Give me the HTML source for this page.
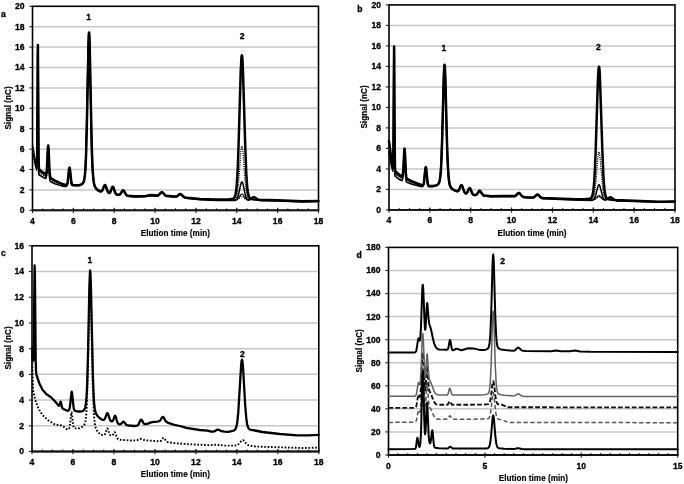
<!DOCTYPE html>
<html><head><meta charset="utf-8"><style>
html,body{margin:0;padding:0;background:#fff;}
body{width:684px;height:484px;overflow:hidden;}
svg{display:block;filter:blur(0.4px);}
.tk{font-family:"Liberation Sans", sans-serif;font-weight:bold;font-size:8.6px;fill:#000;stroke:#000;stroke-width:0.3px;}
.ti{font-family:"Liberation Sans", sans-serif;font-weight:bold;font-size:8.2px;fill:#000;stroke:#000;stroke-width:0.15px;}
.pl{font-family:"Liberation Sans", sans-serif;font-weight:bold;font-size:8.6px;fill:#000;stroke:#000;stroke-width:0.3px;}
</style></head><body>
<svg width="684" height="484" viewBox="0 0 684 484">
<rect width="684" height="484" fill="#fff"/>
<line x1="32.50" y1="189.90" x2="318.50" y2="189.90" stroke="#c6c6c6" stroke-width="1.5"/>
<line x1="32.50" y1="169.50" x2="318.50" y2="169.50" stroke="#c6c6c6" stroke-width="1.5"/>
<line x1="32.50" y1="149.10" x2="318.50" y2="149.10" stroke="#c6c6c6" stroke-width="1.5"/>
<line x1="32.50" y1="128.70" x2="318.50" y2="128.70" stroke="#c6c6c6" stroke-width="1.5"/>
<line x1="32.50" y1="108.30" x2="318.50" y2="108.30" stroke="#c6c6c6" stroke-width="1.5"/>
<line x1="32.50" y1="87.90" x2="318.50" y2="87.90" stroke="#c6c6c6" stroke-width="1.5"/>
<line x1="32.50" y1="67.50" x2="318.50" y2="67.50" stroke="#c6c6c6" stroke-width="1.5"/>
<line x1="32.50" y1="47.10" x2="318.50" y2="47.10" stroke="#c6c6c6" stroke-width="1.5"/>
<line x1="32.50" y1="26.70" x2="318.50" y2="26.70" stroke="#c6c6c6" stroke-width="1.5"/>
<rect x="32.50" y="6.30" width="286.00" height="204.00" fill="none" stroke="#000" stroke-width="1.6"/>
<line x1="29.30" y1="210.30" x2="32.50" y2="210.30" stroke="#222" stroke-width="1.1"/>
<text transform="translate(24.50,213.25) scale(1,1.100)" text-anchor="end" class="tk">0</text>
<line x1="29.30" y1="189.90" x2="32.50" y2="189.90" stroke="#222" stroke-width="1.1"/>
<text transform="translate(24.50,192.85) scale(1,1.100)" text-anchor="end" class="tk">2</text>
<line x1="29.30" y1="169.50" x2="32.50" y2="169.50" stroke="#222" stroke-width="1.1"/>
<text transform="translate(24.50,172.45) scale(1,1.100)" text-anchor="end" class="tk">4</text>
<line x1="29.30" y1="149.10" x2="32.50" y2="149.10" stroke="#222" stroke-width="1.1"/>
<text transform="translate(24.50,152.05) scale(1,1.100)" text-anchor="end" class="tk">6</text>
<line x1="29.30" y1="128.70" x2="32.50" y2="128.70" stroke="#222" stroke-width="1.1"/>
<text transform="translate(24.50,131.65) scale(1,1.100)" text-anchor="end" class="tk">8</text>
<line x1="29.30" y1="108.30" x2="32.50" y2="108.30" stroke="#222" stroke-width="1.1"/>
<text transform="translate(24.50,111.25) scale(1,1.100)" text-anchor="end" class="tk">10</text>
<line x1="29.30" y1="87.90" x2="32.50" y2="87.90" stroke="#222" stroke-width="1.1"/>
<text transform="translate(24.50,90.85) scale(1,1.100)" text-anchor="end" class="tk">12</text>
<line x1="29.30" y1="67.50" x2="32.50" y2="67.50" stroke="#222" stroke-width="1.1"/>
<text transform="translate(24.50,70.45) scale(1,1.100)" text-anchor="end" class="tk">14</text>
<line x1="29.30" y1="47.10" x2="32.50" y2="47.10" stroke="#222" stroke-width="1.1"/>
<text transform="translate(24.50,50.05) scale(1,1.100)" text-anchor="end" class="tk">16</text>
<line x1="29.30" y1="26.70" x2="32.50" y2="26.70" stroke="#222" stroke-width="1.1"/>
<text transform="translate(24.50,29.65) scale(1,1.100)" text-anchor="end" class="tk">18</text>
<line x1="29.30" y1="6.30" x2="32.50" y2="6.30" stroke="#222" stroke-width="1.1"/>
<text transform="translate(24.50,9.25) scale(1,1.100)" text-anchor="end" class="tk">20</text>
<line x1="32.50" y1="208.30" x2="32.50" y2="210.30" stroke="#222" stroke-width="1"/>
<line x1="42.71" y1="208.30" x2="42.71" y2="210.30" stroke="#222" stroke-width="1"/>
<line x1="52.93" y1="208.30" x2="52.93" y2="210.30" stroke="#222" stroke-width="1"/>
<line x1="63.14" y1="208.30" x2="63.14" y2="210.30" stroke="#222" stroke-width="1"/>
<line x1="73.36" y1="208.30" x2="73.36" y2="210.30" stroke="#222" stroke-width="1"/>
<line x1="83.57" y1="208.30" x2="83.57" y2="210.30" stroke="#222" stroke-width="1"/>
<line x1="93.79" y1="208.30" x2="93.79" y2="210.30" stroke="#222" stroke-width="1"/>
<line x1="104.00" y1="208.30" x2="104.00" y2="210.30" stroke="#222" stroke-width="1"/>
<line x1="114.21" y1="208.30" x2="114.21" y2="210.30" stroke="#222" stroke-width="1"/>
<line x1="124.43" y1="208.30" x2="124.43" y2="210.30" stroke="#222" stroke-width="1"/>
<line x1="134.64" y1="208.30" x2="134.64" y2="210.30" stroke="#222" stroke-width="1"/>
<line x1="144.86" y1="208.30" x2="144.86" y2="210.30" stroke="#222" stroke-width="1"/>
<line x1="155.07" y1="208.30" x2="155.07" y2="210.30" stroke="#222" stroke-width="1"/>
<line x1="165.29" y1="208.30" x2="165.29" y2="210.30" stroke="#222" stroke-width="1"/>
<line x1="175.50" y1="208.30" x2="175.50" y2="210.30" stroke="#222" stroke-width="1"/>
<line x1="185.71" y1="208.30" x2="185.71" y2="210.30" stroke="#222" stroke-width="1"/>
<line x1="195.93" y1="208.30" x2="195.93" y2="210.30" stroke="#222" stroke-width="1"/>
<line x1="206.14" y1="208.30" x2="206.14" y2="210.30" stroke="#222" stroke-width="1"/>
<line x1="216.36" y1="208.30" x2="216.36" y2="210.30" stroke="#222" stroke-width="1"/>
<line x1="226.57" y1="208.30" x2="226.57" y2="210.30" stroke="#222" stroke-width="1"/>
<line x1="236.79" y1="208.30" x2="236.79" y2="210.30" stroke="#222" stroke-width="1"/>
<line x1="247.00" y1="208.30" x2="247.00" y2="210.30" stroke="#222" stroke-width="1"/>
<line x1="257.21" y1="208.30" x2="257.21" y2="210.30" stroke="#222" stroke-width="1"/>
<line x1="267.43" y1="208.30" x2="267.43" y2="210.30" stroke="#222" stroke-width="1"/>
<line x1="277.64" y1="208.30" x2="277.64" y2="210.30" stroke="#222" stroke-width="1"/>
<line x1="287.86" y1="208.30" x2="287.86" y2="210.30" stroke="#222" stroke-width="1"/>
<line x1="298.07" y1="208.30" x2="298.07" y2="210.30" stroke="#222" stroke-width="1"/>
<line x1="308.29" y1="208.30" x2="308.29" y2="210.30" stroke="#222" stroke-width="1"/>
<line x1="318.50" y1="208.30" x2="318.50" y2="210.30" stroke="#222" stroke-width="1"/>
<line x1="32.50" y1="207.80" x2="32.50" y2="213.10" stroke="#222" stroke-width="1.1"/>
<text transform="translate(32.50,223.60) scale(1,1.100)" text-anchor="middle" class="tk">4</text>
<line x1="73.36" y1="207.80" x2="73.36" y2="213.10" stroke="#222" stroke-width="1.1"/>
<text transform="translate(73.36,223.60) scale(1,1.100)" text-anchor="middle" class="tk">6</text>
<line x1="114.21" y1="207.80" x2="114.21" y2="213.10" stroke="#222" stroke-width="1.1"/>
<text transform="translate(114.21,223.60) scale(1,1.100)" text-anchor="middle" class="tk">8</text>
<line x1="155.07" y1="207.80" x2="155.07" y2="213.10" stroke="#222" stroke-width="1.1"/>
<text transform="translate(155.07,223.60) scale(1,1.100)" text-anchor="middle" class="tk">10</text>
<line x1="195.93" y1="207.80" x2="195.93" y2="213.10" stroke="#222" stroke-width="1.1"/>
<text transform="translate(195.93,223.60) scale(1,1.100)" text-anchor="middle" class="tk">12</text>
<line x1="236.79" y1="207.80" x2="236.79" y2="213.10" stroke="#222" stroke-width="1.1"/>
<text transform="translate(236.79,223.60) scale(1,1.100)" text-anchor="middle" class="tk">14</text>
<line x1="277.64" y1="207.80" x2="277.64" y2="213.10" stroke="#222" stroke-width="1.1"/>
<text transform="translate(277.64,223.60) scale(1,1.100)" text-anchor="middle" class="tk">16</text>
<line x1="318.50" y1="207.80" x2="318.50" y2="213.10" stroke="#222" stroke-width="1.1"/>
<text transform="translate(318.50,223.60) scale(1,1.100)" text-anchor="middle" class="tk">18</text>
<line x1="31.90" y1="210.30" x2="319.10" y2="210.30" stroke="#111" stroke-width="1.8"/>
<text transform="translate(175.30,236.00) scale(1,1.100)" text-anchor="middle" class="ti">Elution time (min)</text>
<text transform="translate(11.10,108.00) rotate(-90) scale(1,1.100)" text-anchor="middle" class="ti">Signal (nC)</text>
<text transform="translate(1.00,16.50) scale(1,1.100)" class="pl">a</text>
<path d="M32.5,144.5 33.7,151.5 35.0,159.5 36.6,166.5 37.1,167.5 37.2,166.6 37.6,150.4 38.1,59.2 38.2,48.7 38.9,157.5 39.0,167.7 39.2,171.3 39.4,172.3 39.6,172.7 41.7,174.2 45.7,176.6 46.2,176.7 46.6,176.3 46.9,174.8 47.2,171.3 48.1,152.0 48.4,148.5 48.5,147.9 48.8,151.0 49.6,168.4 50.0,175.3 50.4,178.5 50.6,179.4 51.0,180.0 55.0,182.2 61.5,184.7 63.1,185.2 66.1,185.6 66.9,185.5 67.2,185.2 67.5,184.6 68.0,182.4 69.3,170.1 69.5,168.5 69.8,167.9 70.0,168.4 70.3,169.9 71.6,182.0 72.0,183.8 72.5,184.7 72.9,184.9 76.4,185.2 78.3,185.2 79.9,185.0 81.2,184.7 82.3,184.1 83.1,183.4 83.7,182.4 84.1,181.4 84.6,179.8 85.2,175.3 85.8,167.7 86.3,157.0 87.1,127.8 88.6,48.8 89.0,35.9 89.2,33.4 89.4,32.5 89.7,36.1 90.0,46.0 91.8,136.4 92.3,154.4 92.9,168.7 93.5,178.1 93.9,181.5 94.4,183.8 94.9,185.8 95.6,187.2 96.7,188.9 97.6,189.7 98.9,190.5 100.2,191.0 101.0,191.2 101.6,191.0 102.1,190.5 102.6,189.7 104.3,185.5 104.7,185.1 105.0,184.9 105.3,185.1 105.6,185.7 107.5,191.1 108.0,192.0 108.6,192.7 109.0,192.9 109.4,192.9 110.1,192.2 110.8,190.9 112.1,187.4 112.5,186.8 112.8,186.7 113.2,186.9 113.5,187.6 114.9,191.8 115.6,193.4 116.5,194.3 117.9,194.7 119.1,194.7 120.1,194.2 120.8,193.3 122.4,190.7 122.8,190.4 123.2,190.2 123.6,190.4 124.0,190.9 125.6,193.8 126.5,195.0 127.5,195.6 129.1,195.9 134.6,196.2 143.1,196.2 146.1,195.9 149.7,195.3 151.4,195.1 157.1,195.6 157.8,195.4 158.6,195.0 160.9,192.7 161.4,192.3 161.9,192.2 162.3,192.3 162.8,192.7 164.5,194.6 165.3,195.3 166.3,195.8 167.7,196.0 174.2,196.4 176.2,196.4 177.3,196.0 179.4,194.3 180.3,194.0 180.8,194.1 181.3,194.4 183.2,196.4 184.2,197.1 185.5,197.5 187.8,197.8 200.0,199.1 216.4,199.8 232.3,200.0 234.4,199.8 235.4,199.2 236.2,197.9 236.9,195.7 237.5,191.9 238.7,180.8 240.8,152.2 241.4,147.5 241.7,146.3 241.9,146.1 242.2,146.5 242.5,148.0 243.1,153.1 245.0,179.8 246.0,190.1 246.5,193.6 247.1,196.3 247.7,198.2 248.5,199.1 249.1,199.3 249.9,199.2 250.7,198.7 252.7,197.0 253.4,196.7 253.9,196.6 254.5,196.7 255.2,197.0 257.4,198.9 258.4,199.5 259.7,200.0 261.1,200.2 277.6,200.4 302.2,201.3 318.5,201.0" fill="none" stroke="#000" stroke-width="1.30" stroke-linejoin="round" stroke-linecap="butt" stroke-dasharray="1.1 1.1" />
<path d="M32.5,152.2 32.9,153.3 33.7,156.2 35.0,163.0 36.3,168.2 36.5,168.6 36.6,168.5 36.7,166.4 37.1,141.0 37.5,60.2 37.6,49.7 38.3,159.0 38.5,169.4 38.6,173.2 38.8,174.3 39.1,174.7 41.7,176.4 45.1,178.2 45.7,178.3 46.0,177.9 46.3,176.4 46.6,172.9 47.5,153.5 47.8,150.0 47.9,149.4 48.3,152.4 49.0,169.8 49.4,176.7 49.8,179.9 50.1,180.8 50.5,181.4 51.0,181.8 55.0,183.7 59.1,185.1 63.1,186.3 65.6,186.5 66.3,186.4 66.9,185.5 67.4,183.4 68.7,171.0 68.9,169.4 69.2,168.8 69.4,169.3 69.7,170.8 71.0,182.7 71.4,184.5 71.9,185.4 72.4,185.6 73.4,185.5 76.8,185.7 79.6,185.5 80.8,185.1 81.9,184.5 82.7,183.7 83.2,182.7 83.7,181.6 84.1,179.9 84.7,175.0 85.2,168.2 85.7,157.4 86.5,128.2 88.1,49.3 88.5,36.3 88.6,33.8 88.8,33.0 89.1,36.6 89.5,46.5 91.3,136.9 91.7,154.7 92.3,169.0 93.0,178.5 93.4,181.9 93.8,184.2 94.4,186.2 95.0,187.6 96.0,189.1 97.1,190.2 98.4,191.0 99.9,191.7 100.8,191.9 101.5,191.7 102.0,191.3 102.4,190.7 104.2,186.4 104.7,185.7 105.0,185.6 105.3,185.8 105.7,186.5 107.4,191.5 108.0,192.7 108.6,193.3 109.0,193.5 109.4,193.5 110.1,192.9 110.8,191.6 112.1,188.0 112.5,187.4 112.8,187.3 113.2,187.6 113.5,188.2 114.9,192.4 115.6,194.0 116.5,194.9 117.9,195.3 119.1,195.3 120.1,194.8 120.8,193.9 122.4,191.4 122.8,191.0 123.2,190.9 123.6,191.1 124.0,191.5 125.6,194.4 126.5,195.6 127.5,196.2 129.0,196.5 134.6,196.9 143.1,196.8 146.1,196.6 149.7,195.9 151.4,195.8 157.1,196.2 157.8,196.0 158.6,195.6 160.9,193.3 161.4,192.9 161.9,192.8 162.3,193.0 162.8,193.3 164.5,195.3 165.3,196.0 166.3,196.4 167.6,196.6 174.2,197.0 176.2,197.0 177.3,196.6 179.4,194.9 180.3,194.6 180.8,194.7 181.3,195.0 183.2,197.0 184.2,197.7 185.4,198.1 187.5,198.4 200.0,199.7 216.4,200.4 234.1,200.6 235.2,200.4 236.1,200.0 236.8,199.3 237.4,198.1 238.6,194.3 240.8,184.0 241.4,182.4 241.7,181.9 241.9,181.9 242.2,182.0 242.5,182.6 243.1,184.3 245.0,193.7 245.9,197.0 246.9,199.1 247.5,199.8 248.1,200.2 248.9,200.2 249.8,199.9 252.7,197.6 253.4,197.3 253.9,197.2 254.5,197.3 255.2,197.6 257.4,199.5 258.4,200.2 259.7,200.6 261.1,200.8 277.6,201.0 302.2,201.9 318.5,201.6" fill="none" stroke="#000" stroke-width="1.50" stroke-linejoin="round" stroke-linecap="round" />
<path d="M32.5,145.0 33.7,150.9 35.0,158.5 36.6,165.2 36.7,165.5 36.8,165.4 37.0,164.0 37.3,143.5 37.9,46.6 38.1,57.9 38.5,151.7 38.8,167.5 39.0,170.2 39.1,170.9 39.4,171.3 41.7,173.0 45.5,175.4 46.0,175.5 46.3,175.0 46.6,173.3 47.0,169.5 47.9,150.1 48.2,146.8 48.4,147.2 48.6,150.6 49.7,173.7 50.2,177.7 50.4,178.4 50.8,179.0 55.0,181.5 59.1,183.3 63.1,184.8 65.8,185.3 66.7,185.2 67.0,184.8 67.2,184.3 67.6,182.5 69.0,169.6 69.3,168.2 69.5,167.8 69.8,168.5 70.0,170.2 71.2,181.7 71.6,183.6 72.1,184.6 72.7,184.9 75.9,185.1 77.9,185.2 79.5,185.0 80.8,184.7 81.9,184.1 82.8,183.4 83.4,182.4 83.8,181.4 84.2,180.0 84.9,175.6 85.5,168.3 85.9,158.0 86.8,125.8 88.4,47.1 88.7,36.7 89.0,32.5 89.2,33.0 89.4,35.2 89.7,44.4 91.5,134.6 92.1,155.5 92.6,169.3 93.3,178.4 93.7,181.7 94.1,183.9 94.7,185.8 95.3,187.2 96.3,188.6 97.3,189.6 98.7,190.4 100.1,191.1 101.0,191.2 101.6,191.0 102.1,190.6 102.6,189.8 104.3,185.6 104.7,185.1 105.0,185.0 105.4,185.3 105.8,186.1 107.7,191.4 108.2,192.4 108.8,192.9 109.2,192.9 109.6,192.8 110.2,192.1 110.8,190.9 112.1,187.4 112.4,186.8 112.7,186.7 113.1,186.8 113.5,187.6 114.8,191.5 115.4,192.9 115.9,193.8 116.6,194.3 117.3,194.6 118.3,194.7 119.1,194.7 119.8,194.4 120.8,193.4 122.5,190.7 122.9,190.3 123.2,190.2 123.6,190.4 124.0,190.9 125.6,193.8 126.5,195.0 127.6,195.6 129.5,195.9 134.6,196.2 143.3,196.2 146.1,196.0 149.7,195.3 151.4,195.1 157.1,195.6 157.8,195.4 158.6,195.0 160.9,192.7 161.4,192.3 161.9,192.2 162.3,192.3 162.8,192.7 164.5,194.6 165.3,195.3 166.3,195.8 167.6,196.0 174.2,196.4 176.2,196.4 177.3,196.0 179.4,194.3 180.3,194.0 180.8,194.1 181.3,194.4 183.2,196.4 184.2,197.1 185.4,197.5 187.5,197.8 200.0,199.1 216.4,199.8 234.3,200.0 236.2,199.8 237.5,199.2 238.7,197.9 240.8,194.7 241.4,194.2 241.9,194.0 242.5,194.2 243.1,194.8 245.0,197.7 245.9,198.8 246.8,199.5 247.7,199.8 248.6,199.7 249.6,199.4 250.6,198.8 252.7,197.0 253.4,196.7 253.9,196.6 254.5,196.7 255.2,197.0 257.4,198.9 258.4,199.5 259.7,200.0 261.1,200.2 277.6,200.4 302.2,201.3 318.5,201.0" fill="none" stroke="#111" stroke-width="1.20" stroke-linejoin="round" stroke-linecap="round" />
<path d="M32.5,157.2 32.9,157.2 33.3,157.8 33.7,158.8 35.0,164.5 36.6,170.2 36.7,170.4 36.8,170.3 37.0,168.8 37.3,148.3 37.9,51.2 38.1,62.5 38.5,156.2 38.8,171.9 39.0,174.6 39.1,175.3 39.4,175.6 41.7,177.0 45.5,178.9 46.0,178.9 46.3,178.4 46.6,176.6 47.0,172.8 47.9,153.3 48.2,149.9 48.4,150.4 48.6,153.7 49.7,176.7 50.2,180.5 50.4,181.3 50.8,181.9 55.0,183.8 59.1,185.1 63.1,186.1 65.8,186.2 66.7,186.0 67.2,185.1 67.6,183.2 69.0,170.1 69.3,168.7 69.5,168.3 69.8,169.0 70.0,170.6 71.2,181.9 71.6,183.8 72.1,184.8 72.6,185.0 73.4,184.9 76.8,185.2 78.5,185.1 79.8,185.0 81.1,184.5 82.2,183.9 83.0,183.1 83.6,182.1 84.0,180.9 84.4,179.2 85.0,174.0 85.5,166.9 86.0,155.8 86.8,125.8 88.4,47.1 88.7,36.7 89.0,32.5 89.2,33.0 89.4,35.2 89.7,44.4 91.5,134.6 92.1,155.5 92.6,169.3 93.3,178.4 93.7,181.7 94.1,183.9 94.7,185.8 95.3,187.2 96.3,188.6 97.3,189.6 98.7,190.4 100.1,191.1 101.0,191.2 101.6,191.0 102.1,190.6 102.6,189.8 104.3,185.6 104.7,185.1 105.0,185.0 105.4,185.3 105.8,186.1 107.7,191.4 108.2,192.4 108.8,192.9 109.2,192.9 109.6,192.8 110.2,192.1 110.8,190.9 112.1,187.4 112.4,186.8 112.7,186.7 113.1,186.8 113.5,187.6 114.8,191.5 115.4,192.9 115.9,193.8 116.6,194.3 117.3,194.6 118.3,194.7 119.1,194.7 119.8,194.4 120.8,193.4 122.5,190.7 122.9,190.3 123.2,190.2 123.6,190.4 124.0,190.9 125.6,193.8 126.5,195.0 127.6,195.6 129.5,195.9 134.6,196.2 143.3,196.2 146.1,196.0 149.7,195.3 151.4,195.1 157.1,195.6 157.8,195.4 158.6,195.0 160.9,192.7 161.4,192.3 161.9,192.2 162.3,192.3 162.8,192.7 165.0,195.2 165.8,195.6 166.7,195.9 173.8,196.4 176.1,196.4 177.3,196.0 179.4,194.3 179.9,194.0 180.4,194.0 181.3,194.4 183.7,196.8 185.1,197.4 187.8,197.8 200.0,199.1 216.4,199.8 235.5,200.0 236.8,199.8 237.8,199.4 238.7,198.8 240.8,196.9 241.4,196.6 241.9,196.5 242.5,196.7 243.1,197.0 245.0,198.8 245.9,199.4 246.9,199.8 247.9,199.9 248.8,199.7 249.7,199.4 252.7,197.0 253.4,196.7 253.9,196.6 254.5,196.7 255.2,197.0 257.4,198.9 258.4,199.5 259.7,200.0 261.1,200.2 277.6,200.4 302.2,201.3 318.5,201.0" fill="none" stroke="#000" stroke-width="1.20" stroke-linejoin="round" stroke-linecap="butt" stroke-dasharray="1.1 1.1" />
<path d="M36.0,160.6 36.6,163.4 36.8,163.5 36.9,163.3 37.0,161.2 37.2,153.8 37.8,55.3 37.9,44.9 38.6,154.2 38.8,164.4 38.9,168.0 39.1,169.1 39.4,169.6 41.7,171.5 45.4,173.9 45.9,174.1 46.3,173.7 46.6,172.3 46.9,168.8 47.8,149.5 48.1,146.1 48.2,145.5 48.6,148.6 49.3,166.1 49.7,173.0 50.2,176.7 50.4,177.4 50.8,178.0 54.9,180.5 59.1,182.6 63.2,184.3 65.9,184.9 66.6,184.9 66.9,184.6 67.2,184.1 67.7,182.0 69.0,169.7 69.2,168.2 69.5,167.6 69.7,168.1 70.0,169.7 71.3,181.8 71.7,183.6 72.2,184.6 72.7,184.9 76.2,185.2 78.2,185.2 79.8,185.0 81.2,184.5 82.2,183.9 83.0,183.0 83.6,182.0 84.0,180.8 84.4,178.9 85.0,174.4 85.5,167.6 86.0,156.9 86.8,127.7 88.4,48.7 88.8,35.8 88.9,33.3 89.1,32.4 89.4,36.0 89.7,45.9 91.5,136.3 92.0,154.2 92.6,168.5 93.3,178.0 93.7,181.4 94.1,183.7 94.6,185.7 95.3,187.1 96.4,188.7 97.3,189.6 98.6,190.4 100.0,191.0 100.9,191.2 101.6,191.0 102.1,190.6 102.5,190.0 104.2,185.8 104.6,185.1 104.9,185.0 105.3,185.2 105.8,186.0 107.7,191.5 108.2,192.3 108.8,192.8 109.2,192.9 109.5,192.8 110.2,192.2 110.7,191.0 112.0,187.5 112.5,186.8 112.8,186.7 113.1,186.9 113.5,187.7 115.3,192.8 115.9,193.8 116.5,194.3 117.3,194.6 118.3,194.7 119.1,194.7 119.7,194.4 120.7,193.5 122.4,190.7 122.8,190.3 123.2,190.2 123.7,190.5 124.1,191.0 125.5,193.7 126.3,194.9 127.3,195.5 128.7,195.8 134.6,196.2 140.9,196.2 145.6,196.0 149.6,195.3 151.1,195.1 157.2,195.5 157.9,195.4 158.6,195.0 160.9,192.6 161.4,192.3 161.8,192.2 162.2,192.3 162.7,192.6 165.1,195.2 165.8,195.6 166.6,195.8 173.7,196.4 176.1,196.3 177.3,196.0 179.5,194.2 180.4,193.9 180.9,194.1 181.3,194.4 183.6,196.7 184.4,197.1 185.2,197.4 187.7,197.8 200.0,199.0 216.3,199.6 224.7,199.5 228.5,199.4 231.3,199.1 232.9,198.7 233.9,198.1 234.5,197.3 235.0,196.2 235.5,194.5 235.9,192.3 236.7,186.0 237.3,176.7 237.9,164.9 238.5,147.1 240.7,72.0 241.3,59.7 241.6,56.1 241.9,55.3 242.1,56.1 242.5,59.7 243.0,72.0 245.2,144.6 246.3,173.7 246.9,183.0 247.5,190.0 248.3,194.6 248.7,196.1 249.2,197.2 249.6,197.9 250.1,198.4 251.5,199.0 254.3,199.5 258.7,199.8 277.7,200.3 302.1,201.3 318.5,201.0" fill="none" stroke="#000" stroke-width="2.50" stroke-linejoin="round" stroke-linecap="round" />
<text transform="translate(88.70,19.60) scale(1,1.100)" text-anchor="middle" class="pl">1</text>
<text transform="translate(242.20,38.60) scale(1,1.100)" text-anchor="middle" class="pl">2</text>
<line x1="389.00" y1="189.40" x2="675.00" y2="189.40" stroke="#c6c6c6" stroke-width="1.5"/>
<line x1="389.00" y1="168.90" x2="675.00" y2="168.90" stroke="#c6c6c6" stroke-width="1.5"/>
<line x1="389.00" y1="148.40" x2="675.00" y2="148.40" stroke="#c6c6c6" stroke-width="1.5"/>
<line x1="389.00" y1="127.90" x2="675.00" y2="127.90" stroke="#c6c6c6" stroke-width="1.5"/>
<line x1="389.00" y1="107.40" x2="675.00" y2="107.40" stroke="#c6c6c6" stroke-width="1.5"/>
<line x1="389.00" y1="86.90" x2="675.00" y2="86.90" stroke="#c6c6c6" stroke-width="1.5"/>
<line x1="389.00" y1="66.40" x2="675.00" y2="66.40" stroke="#c6c6c6" stroke-width="1.5"/>
<line x1="389.00" y1="45.90" x2="675.00" y2="45.90" stroke="#c6c6c6" stroke-width="1.5"/>
<line x1="389.00" y1="25.40" x2="675.00" y2="25.40" stroke="#c6c6c6" stroke-width="1.5"/>
<rect x="389.00" y="4.90" width="286.00" height="205.00" fill="none" stroke="#000" stroke-width="1.6"/>
<line x1="385.80" y1="209.90" x2="389.00" y2="209.90" stroke="#222" stroke-width="1.1"/>
<text transform="translate(381.00,212.85) scale(1,1.100)" text-anchor="end" class="tk">0</text>
<line x1="385.80" y1="189.40" x2="389.00" y2="189.40" stroke="#222" stroke-width="1.1"/>
<text transform="translate(381.00,192.35) scale(1,1.100)" text-anchor="end" class="tk">2</text>
<line x1="385.80" y1="168.90" x2="389.00" y2="168.90" stroke="#222" stroke-width="1.1"/>
<text transform="translate(381.00,171.85) scale(1,1.100)" text-anchor="end" class="tk">4</text>
<line x1="385.80" y1="148.40" x2="389.00" y2="148.40" stroke="#222" stroke-width="1.1"/>
<text transform="translate(381.00,151.35) scale(1,1.100)" text-anchor="end" class="tk">6</text>
<line x1="385.80" y1="127.90" x2="389.00" y2="127.90" stroke="#222" stroke-width="1.1"/>
<text transform="translate(381.00,130.85) scale(1,1.100)" text-anchor="end" class="tk">8</text>
<line x1="385.80" y1="107.40" x2="389.00" y2="107.40" stroke="#222" stroke-width="1.1"/>
<text transform="translate(381.00,110.35) scale(1,1.100)" text-anchor="end" class="tk">10</text>
<line x1="385.80" y1="86.90" x2="389.00" y2="86.90" stroke="#222" stroke-width="1.1"/>
<text transform="translate(381.00,89.85) scale(1,1.100)" text-anchor="end" class="tk">12</text>
<line x1="385.80" y1="66.40" x2="389.00" y2="66.40" stroke="#222" stroke-width="1.1"/>
<text transform="translate(381.00,69.35) scale(1,1.100)" text-anchor="end" class="tk">14</text>
<line x1="385.80" y1="45.90" x2="389.00" y2="45.90" stroke="#222" stroke-width="1.1"/>
<text transform="translate(381.00,48.85) scale(1,1.100)" text-anchor="end" class="tk">16</text>
<line x1="385.80" y1="25.40" x2="389.00" y2="25.40" stroke="#222" stroke-width="1.1"/>
<text transform="translate(381.00,28.35) scale(1,1.100)" text-anchor="end" class="tk">18</text>
<line x1="385.80" y1="4.90" x2="389.00" y2="4.90" stroke="#222" stroke-width="1.1"/>
<text transform="translate(381.00,7.85) scale(1,1.100)" text-anchor="end" class="tk">20</text>
<line x1="389.00" y1="207.90" x2="389.00" y2="209.90" stroke="#222" stroke-width="1"/>
<line x1="399.21" y1="207.90" x2="399.21" y2="209.90" stroke="#222" stroke-width="1"/>
<line x1="409.43" y1="207.90" x2="409.43" y2="209.90" stroke="#222" stroke-width="1"/>
<line x1="419.64" y1="207.90" x2="419.64" y2="209.90" stroke="#222" stroke-width="1"/>
<line x1="429.86" y1="207.90" x2="429.86" y2="209.90" stroke="#222" stroke-width="1"/>
<line x1="440.07" y1="207.90" x2="440.07" y2="209.90" stroke="#222" stroke-width="1"/>
<line x1="450.29" y1="207.90" x2="450.29" y2="209.90" stroke="#222" stroke-width="1"/>
<line x1="460.50" y1="207.90" x2="460.50" y2="209.90" stroke="#222" stroke-width="1"/>
<line x1="470.71" y1="207.90" x2="470.71" y2="209.90" stroke="#222" stroke-width="1"/>
<line x1="480.93" y1="207.90" x2="480.93" y2="209.90" stroke="#222" stroke-width="1"/>
<line x1="491.14" y1="207.90" x2="491.14" y2="209.90" stroke="#222" stroke-width="1"/>
<line x1="501.36" y1="207.90" x2="501.36" y2="209.90" stroke="#222" stroke-width="1"/>
<line x1="511.57" y1="207.90" x2="511.57" y2="209.90" stroke="#222" stroke-width="1"/>
<line x1="521.79" y1="207.90" x2="521.79" y2="209.90" stroke="#222" stroke-width="1"/>
<line x1="532.00" y1="207.90" x2="532.00" y2="209.90" stroke="#222" stroke-width="1"/>
<line x1="542.21" y1="207.90" x2="542.21" y2="209.90" stroke="#222" stroke-width="1"/>
<line x1="552.43" y1="207.90" x2="552.43" y2="209.90" stroke="#222" stroke-width="1"/>
<line x1="562.64" y1="207.90" x2="562.64" y2="209.90" stroke="#222" stroke-width="1"/>
<line x1="572.86" y1="207.90" x2="572.86" y2="209.90" stroke="#222" stroke-width="1"/>
<line x1="583.07" y1="207.90" x2="583.07" y2="209.90" stroke="#222" stroke-width="1"/>
<line x1="593.29" y1="207.90" x2="593.29" y2="209.90" stroke="#222" stroke-width="1"/>
<line x1="603.50" y1="207.90" x2="603.50" y2="209.90" stroke="#222" stroke-width="1"/>
<line x1="613.71" y1="207.90" x2="613.71" y2="209.90" stroke="#222" stroke-width="1"/>
<line x1="623.93" y1="207.90" x2="623.93" y2="209.90" stroke="#222" stroke-width="1"/>
<line x1="634.14" y1="207.90" x2="634.14" y2="209.90" stroke="#222" stroke-width="1"/>
<line x1="644.36" y1="207.90" x2="644.36" y2="209.90" stroke="#222" stroke-width="1"/>
<line x1="654.57" y1="207.90" x2="654.57" y2="209.90" stroke="#222" stroke-width="1"/>
<line x1="664.79" y1="207.90" x2="664.79" y2="209.90" stroke="#222" stroke-width="1"/>
<line x1="675.00" y1="207.90" x2="675.00" y2="209.90" stroke="#222" stroke-width="1"/>
<line x1="389.00" y1="207.40" x2="389.00" y2="212.70" stroke="#222" stroke-width="1.1"/>
<text transform="translate(389.00,223.20) scale(1,1.100)" text-anchor="middle" class="tk">4</text>
<line x1="429.86" y1="207.40" x2="429.86" y2="212.70" stroke="#222" stroke-width="1.1"/>
<text transform="translate(429.86,223.20) scale(1,1.100)" text-anchor="middle" class="tk">6</text>
<line x1="470.71" y1="207.40" x2="470.71" y2="212.70" stroke="#222" stroke-width="1.1"/>
<text transform="translate(470.71,223.20) scale(1,1.100)" text-anchor="middle" class="tk">8</text>
<line x1="511.57" y1="207.40" x2="511.57" y2="212.70" stroke="#222" stroke-width="1.1"/>
<text transform="translate(511.57,223.20) scale(1,1.100)" text-anchor="middle" class="tk">10</text>
<line x1="552.43" y1="207.40" x2="552.43" y2="212.70" stroke="#222" stroke-width="1.1"/>
<text transform="translate(552.43,223.20) scale(1,1.100)" text-anchor="middle" class="tk">12</text>
<line x1="593.29" y1="207.40" x2="593.29" y2="212.70" stroke="#222" stroke-width="1.1"/>
<text transform="translate(593.29,223.20) scale(1,1.100)" text-anchor="middle" class="tk">14</text>
<line x1="634.14" y1="207.40" x2="634.14" y2="212.70" stroke="#222" stroke-width="1.1"/>
<text transform="translate(634.14,223.20) scale(1,1.100)" text-anchor="middle" class="tk">16</text>
<line x1="675.00" y1="207.40" x2="675.00" y2="212.70" stroke="#222" stroke-width="1.1"/>
<text transform="translate(675.00,223.20) scale(1,1.100)" text-anchor="middle" class="tk">18</text>
<line x1="388.40" y1="209.90" x2="675.60" y2="209.90" stroke="#111" stroke-width="1.8"/>
<text transform="translate(532.00,236.20) scale(1,1.100)" text-anchor="middle" class="ti">Elution time (min)</text>
<text transform="translate(367.00,107.00) rotate(-90) scale(1,1.100)" text-anchor="middle" class="ti">Signal (nC)</text>
<text transform="translate(357.30,11.50) scale(1,1.100)" class="pl">b</text>
<path d="M389.0,143.2 391.5,162.3 393.1,168.9 393.2,169.1 393.3,168.9 393.5,167.1 393.8,144.0 394.4,48.9 395.0,146.5 395.3,170.8 395.5,173.2 395.7,174.0 397.2,175.4 400.3,177.7 402.0,178.4 402.5,178.5 402.9,177.9 403.1,176.8 403.6,171.2 404.4,153.7 404.8,150.5 404.9,150.9 405.2,154.0 406.2,175.8 406.7,179.1 406.9,180.0 407.3,180.6 411.5,182.4 421.7,185.8 422.7,185.8 423.2,185.7 423.7,184.8 424.2,182.8 425.6,169.3 425.9,167.8 426.1,167.4 426.3,168.2 426.6,170.0 427.8,182.4 428.2,184.5 428.8,185.8 429.1,186.0 429.6,186.1 432.0,186.1 434.4,185.8 436.4,185.4 437.5,184.9 438.3,184.4 438.9,183.6 439.4,182.6 440.2,179.9 440.7,175.6 441.2,169.5 441.7,160.3 442.5,136.8 444.1,77.5 444.5,67.7 444.8,64.8 445.0,65.1 445.1,66.7 445.5,75.6 447.4,146.6 448.0,162.4 448.7,174.2 449.3,180.9 449.7,183.4 450.2,185.3 450.8,186.7 451.5,187.8 452.5,188.8 453.8,189.7 455.3,190.4 456.7,191.0 457.5,191.1 458.1,190.9 458.6,190.5 459.1,189.7 460.8,185.6 461.2,185.2 461.5,185.0 461.9,185.3 462.3,186.1 464.2,191.5 464.7,192.3 465.2,192.9 465.6,193.2 466.1,193.2 466.5,193.1 467.0,192.7 467.6,191.7 469.0,188.6 469.4,188.1 469.7,188.0 470.1,188.3 470.4,188.8 471.8,192.4 472.5,193.7 473.4,194.5 474.6,194.9 475.7,194.8 476.6,194.3 477.3,193.5 478.9,191.2 479.3,190.8 479.7,190.7 480.1,190.9 480.5,191.3 482.5,194.4 483.5,195.3 485.2,195.7 491.1,196.2 501.4,196.0 514.3,196.1 515.1,195.9 515.7,195.5 517.9,193.4 518.4,193.0 518.8,192.9 519.3,193.1 519.8,193.4 521.6,195.6 522.6,196.4 523.7,196.9 525.6,197.2 531.3,197.5 533.2,197.4 534.4,196.9 536.6,194.8 537.1,194.6 537.5,194.5 538.0,194.6 538.5,194.9 540.2,196.8 541.0,197.5 541.9,197.9 543.0,198.1 572.9,199.3 589.4,199.7 591.6,199.6 592.6,199.1 593.4,197.8 594.0,195.8 594.7,192.4 595.7,183.2 597.9,157.7 598.4,153.4 598.8,152.1 599.0,151.8 599.3,152.1 599.6,153.4 600.1,157.7 602.2,182.5 603.1,190.9 603.6,194.0 604.2,196.6 604.7,198.1 605.5,199.0 606.0,199.2 606.7,199.0 609.3,197.1 609.9,196.9 610.4,196.8 611.0,196.9 611.7,197.2 613.9,199.1 614.9,199.8 616.2,200.3 617.6,200.5 634.1,200.8 658.7,201.7 675.0,201.4" fill="none" stroke="#000" stroke-width="1.30" stroke-linejoin="round" stroke-linecap="butt" stroke-dasharray="1.1 1.1" />
<path d="M389.0,152.0 390.2,158.2 391.5,166.0 392.7,170.0 392.8,169.5 392.9,168.4 393.2,145.5 393.8,50.3 394.4,147.8 394.7,172.3 394.9,174.8 395.1,175.9 397.2,177.7 400.2,179.8 401.4,180.2 401.9,180.2 402.3,179.6 402.6,178.5 403.1,172.9 403.9,155.4 404.2,152.1 404.4,152.5 404.6,155.7 405.7,177.4 406.1,180.7 406.3,181.5 406.7,182.1 407.3,182.4 411.5,184.0 421.7,186.8 422.6,186.6 423.2,185.7 423.6,183.6 425.0,170.1 425.3,168.6 425.5,168.2 425.8,169.0 426.0,170.7 427.2,183.1 427.7,185.2 428.2,186.4 429.0,186.7 431.2,186.7 433.5,186.5 435.3,186.1 436.7,185.5 437.6,185.0 438.3,184.2 438.8,183.2 439.6,180.4 440.2,176.1 440.6,170.0 441.1,160.8 442.0,137.2 443.5,77.9 443.9,68.2 444.2,65.2 444.4,65.6 444.6,67.2 445.0,76.0 446.9,147.1 447.4,162.8 448.1,174.6 448.7,181.4 449.1,183.9 449.6,185.8 450.2,187.2 450.9,188.3 451.9,189.3 453.2,190.2 454.8,191.0 456.4,191.6 457.3,191.8 458.0,191.6 458.5,191.2 458.9,190.7 460.7,186.4 461.2,185.8 461.5,185.7 461.9,186.0 462.3,186.8 464.2,192.1 464.7,193.0 465.2,193.6 465.6,193.8 466.1,193.9 466.5,193.7 467.0,193.4 467.6,192.3 469.0,189.2 469.4,188.7 469.7,188.7 470.1,188.9 470.4,189.5 471.8,193.0 472.5,194.4 473.4,195.2 474.6,195.5 475.7,195.4 476.6,195.0 477.3,194.2 478.9,191.8 479.3,191.4 479.7,191.3 480.1,191.5 480.5,191.9 482.5,195.0 483.5,195.9 485.2,196.3 491.1,196.8 501.4,196.6 514.3,196.7 515.1,196.5 515.7,196.2 517.9,194.0 518.4,193.6 518.8,193.6 519.3,193.7 519.8,194.0 521.6,196.2 522.6,197.1 523.7,197.5 525.5,197.8 531.2,198.1 533.2,198.0 534.4,197.5 536.6,195.5 537.1,195.2 537.5,195.1 538.0,195.2 538.5,195.6 540.1,197.3 540.9,198.0 541.8,198.5 542.9,198.7 572.9,199.9 591.2,200.4 592.4,200.2 593.2,199.9 593.9,199.2 594.6,198.2 595.7,195.0 597.9,186.6 598.4,185.2 598.8,184.8 599.0,184.7 599.3,184.8 599.6,185.3 600.1,186.7 602.1,194.6 603.0,197.5 604.0,199.3 604.5,199.8 605.1,200.1 605.7,200.1 606.4,199.8 609.2,197.8 609.9,197.5 610.4,197.4 611.0,197.5 611.7,197.9 613.9,199.7 614.9,200.4 616.2,200.9 617.6,201.1 634.1,201.4 658.7,202.3 675.0,202.0" fill="none" stroke="#000" stroke-width="1.50" stroke-linejoin="round" stroke-linecap="round" />
<path d="M389.0,145.3 391.5,161.9 392.9,167.4 393.0,167.5 393.1,167.3 393.2,166.4 393.5,147.9 394.1,48.3 394.2,56.1 394.7,150.6 395.0,170.5 395.2,172.3 395.5,172.9 397.2,174.6 400.3,177.0 401.7,177.6 402.2,177.6 402.6,177.2 402.9,175.7 403.4,169.7 404.2,152.3 404.4,150.3 404.5,149.7 404.9,152.6 405.9,174.6 406.3,178.2 406.6,179.2 407.0,179.9 407.6,180.3 411.5,182.0 421.2,185.4 422.2,185.6 422.9,185.5 423.2,185.1 423.5,184.5 424.0,182.3 425.3,169.4 425.5,167.8 425.8,167.3 426.0,167.9 426.3,169.5 427.6,182.6 428.0,184.6 428.5,185.7 429.1,186.1 430.5,186.1 433.4,185.9 435.5,185.5 436.9,185.0 437.9,184.4 438.6,183.6 439.2,182.5 439.8,180.0 440.4,175.9 440.9,170.1 441.4,161.2 442.2,138.1 443.8,76.2 444.2,67.0 444.4,65.2 444.6,64.7 444.9,67.2 445.3,76.7 447.1,145.2 447.7,161.3 448.3,173.5 449.1,181.1 449.5,183.5 450.0,185.4 450.5,186.7 451.3,187.8 452.2,188.8 453.6,189.7 455.1,190.4 456.6,191.0 457.5,191.1 458.1,190.9 458.6,190.5 459.1,189.7 460.8,185.6 461.2,185.2 461.5,185.0 461.9,185.4 462.3,186.1 463.7,190.3 464.3,191.7 464.9,192.7 465.6,193.2 466.4,193.2 467.0,192.7 467.7,191.6 469.0,188.6 469.3,188.2 469.7,188.0 470.0,188.2 470.4,188.8 472.3,193.4 472.9,194.2 473.7,194.7 475.0,194.9 475.8,194.8 476.4,194.5 477.3,193.6 478.9,191.2 479.3,190.8 479.7,190.7 480.1,190.9 480.5,191.3 482.5,194.4 483.5,195.3 485.2,195.7 491.1,196.2 501.4,196.0 514.3,196.1 515.1,195.9 515.7,195.5 517.9,193.4 518.4,193.0 518.8,192.9 519.3,193.0 519.7,193.4 521.8,195.8 522.9,196.6 524.4,197.0 527.9,197.4 531.9,197.5 533.5,197.4 534.7,196.7 536.7,194.8 537.5,194.5 538.0,194.6 538.5,194.9 540.1,196.7 540.9,197.4 541.8,197.9 542.9,198.1 572.9,199.3 592.1,199.8 593.6,199.6 594.8,199.2 595.8,198.3 597.9,196.2 598.4,195.8 599.0,195.7 599.6,195.9 600.1,196.3 602.8,199.1 603.7,199.6 604.5,199.8 605.3,199.7 606.2,199.4 607.1,198.8 609.2,197.2 609.9,196.9 610.4,196.8 611.0,196.9 611.7,197.2 613.9,199.1 614.9,199.8 616.2,200.3 617.6,200.5 634.1,200.8 658.7,201.7 675.0,201.4" fill="none" stroke="#111" stroke-width="1.30" stroke-linejoin="round" stroke-linecap="round" />
<path d="M389.0,158.1 389.4,158.5 390.2,161.2 391.5,167.7 392.9,172.1 393.0,172.2 393.1,171.9 393.2,171.0 393.5,152.4 394.1,52.6 394.2,60.3 394.7,154.7 395.0,174.6 395.2,176.3 395.5,176.9 397.2,178.3 400.2,180.3 401.7,180.8 402.2,180.8 402.6,180.3 402.8,179.3 403.4,172.7 404.2,155.2 404.4,153.2 404.5,152.5 404.9,155.4 405.9,177.3 406.3,180.9 406.6,181.8 407.0,182.5 407.6,182.8 411.5,184.1 421.2,186.4 422.2,186.5 422.9,186.2 423.5,185.3 424.0,183.0 425.3,170.0 425.5,168.3 425.8,167.7 426.0,168.3 426.3,169.9 427.6,182.8 428.0,184.8 428.5,185.8 428.8,186.1 429.2,186.1 431.6,186.1 433.9,185.9 435.7,185.5 437.0,185.0 437.9,184.4 438.6,183.6 439.2,182.5 439.8,180.0 440.4,175.9 440.9,170.1 441.4,161.2 442.2,138.1 443.8,76.2 444.2,67.0 444.4,65.2 444.6,64.7 444.9,67.2 445.3,76.7 447.1,145.2 447.7,161.3 448.3,173.5 449.1,181.1 449.5,183.5 450.0,185.4 450.5,186.7 451.3,187.8 452.2,188.8 453.6,189.7 455.1,190.4 456.6,191.0 457.5,191.1 458.1,190.9 458.6,190.5 459.1,189.7 460.8,185.6 461.2,185.2 461.5,185.0 461.9,185.4 462.3,186.1 463.7,190.3 464.3,191.7 464.9,192.7 465.6,193.2 466.4,193.2 467.0,192.7 467.7,191.6 469.0,188.6 469.3,188.2 469.7,188.0 470.0,188.2 470.4,188.8 472.3,193.4 472.9,194.2 473.7,194.7 475.0,194.9 475.8,194.8 476.4,194.5 477.3,193.6 478.9,191.2 479.3,190.8 479.7,190.7 480.1,190.9 480.5,191.3 482.5,194.4 483.5,195.3 485.2,195.7 491.1,196.2 501.4,196.0 514.3,196.1 515.1,195.9 515.7,195.5 517.9,193.4 518.4,193.0 518.8,192.9 519.3,193.0 519.7,193.4 521.8,195.8 522.9,196.6 524.4,197.0 527.9,197.4 531.9,197.5 533.5,197.4 534.7,196.7 536.7,194.8 537.5,194.5 537.9,194.6 538.4,194.9 540.3,196.9 541.2,197.6 542.2,198.0 543.8,198.1 552.4,198.4 572.9,199.3 592.3,199.8 593.8,199.7 594.8,199.3 595.8,198.8 597.9,197.3 598.4,197.0 599.0,196.9 599.6,197.1 600.1,197.4 602.9,199.4 603.7,199.7 604.6,199.8 605.5,199.7 606.3,199.4 609.2,197.2 609.9,196.9 610.4,196.8 611.0,196.9 611.7,197.2 613.9,199.1 614.9,199.8 616.2,200.3 617.6,200.5 634.1,200.8 658.7,201.7 675.0,201.4" fill="none" stroke="#000" stroke-width="1.20" stroke-linejoin="round" stroke-linecap="butt" stroke-dasharray="1.1 1.1" />
<path d="M389.0,141.2 391.5,159.6 392.8,165.2 393.0,165.5 393.2,164.5 393.5,146.0 394.1,46.4 394.2,54.2 394.7,148.8 395.0,168.7 395.2,170.6 395.5,171.2 397.2,172.9 400.2,175.4 401.7,176.2 402.2,176.3 402.6,175.8 402.8,174.8 403.4,168.3 404.2,151.0 404.4,149.0 404.5,148.4 404.9,151.3 405.9,173.4 406.3,177.0 406.6,178.0 407.0,178.7 407.6,179.2 411.5,181.1 421.2,185.0 422.2,185.3 422.9,185.1 423.2,184.8 423.5,184.2 424.0,182.0 425.3,169.2 425.5,167.6 425.8,167.1 426.0,167.7 426.3,169.3 427.6,182.5 428.0,184.5 428.5,185.6 429.0,186.0 430.0,186.1 433.0,186.0 435.3,185.5 436.8,185.1 437.8,184.5 438.5,183.7 439.1,182.7 439.8,180.0 440.4,175.9 440.9,170.1 441.4,161.2 442.2,138.1 443.8,76.2 444.2,67.0 444.4,65.2 444.6,64.7 444.9,67.2 445.3,76.7 447.0,142.5 447.5,157.2 448.1,169.7 448.7,177.5 449.4,183.1 449.8,184.8 450.4,186.4 451.0,187.5 451.8,188.4 453.3,189.5 455.2,190.5 456.9,191.1 457.9,191.0 458.5,190.7 458.9,190.0 460.7,185.8 461.2,185.2 461.5,185.0 461.9,185.4 462.3,186.1 463.7,190.3 464.3,191.7 464.9,192.6 465.6,193.2 466.4,193.2 467.0,192.6 467.7,191.6 469.0,188.6 469.3,188.2 469.7,188.0 470.0,188.2 470.4,188.8 472.3,193.4 472.9,194.2 473.7,194.7 475.0,194.9 475.8,194.8 476.4,194.5 477.3,193.6 478.9,191.2 479.3,190.8 479.7,190.7 480.1,190.9 480.5,191.3 482.5,194.4 483.5,195.3 485.2,195.6 491.1,196.2 501.4,196.0 514.3,196.1 515.1,195.9 515.7,195.5 517.9,193.3 518.4,193.0 518.8,192.9 519.3,193.0 519.7,193.3 521.8,195.8 522.9,196.6 524.4,197.0 527.9,197.4 531.9,197.5 533.5,197.3 534.7,196.6 536.7,194.8 537.5,194.4 538.0,194.6 538.5,194.9 540.2,196.8 541.0,197.4 542.0,197.9 543.2,198.1 575.8,199.2 585.4,199.1 588.4,198.9 590.1,198.5 591.0,198.0 591.7,197.3 592.2,196.1 592.7,194.4 593.5,189.2 594.3,180.8 594.9,169.3 595.6,153.4 597.9,80.1 598.5,69.7 598.8,67.5 599.0,66.8 599.3,67.5 599.6,70.8 600.1,82.2 602.3,149.0 603.4,175.8 604.0,184.4 604.6,190.9 605.4,195.1 605.8,196.5 606.3,197.6 606.7,198.2 607.3,198.7 608.6,199.3 611.7,199.8 615.8,200.1 634.1,200.7 658.7,201.7 675.0,201.4" fill="none" stroke="#000" stroke-width="2.50" stroke-linejoin="round" stroke-linecap="round" />
<text transform="translate(443.80,50.50) scale(1,1.100)" text-anchor="middle" class="pl">1</text>
<text transform="translate(598.30,50.10) scale(1,1.100)" text-anchor="middle" class="pl">2</text>
<line x1="32.00" y1="425.79" x2="318.80" y2="425.79" stroke="#c6c6c6" stroke-width="1.5"/>
<line x1="32.00" y1="400.07" x2="318.80" y2="400.07" stroke="#c6c6c6" stroke-width="1.5"/>
<line x1="32.00" y1="374.36" x2="318.80" y2="374.36" stroke="#c6c6c6" stroke-width="1.5"/>
<line x1="32.00" y1="348.65" x2="318.80" y2="348.65" stroke="#c6c6c6" stroke-width="1.5"/>
<line x1="32.00" y1="322.94" x2="318.80" y2="322.94" stroke="#c6c6c6" stroke-width="1.5"/>
<line x1="32.00" y1="297.23" x2="318.80" y2="297.23" stroke="#c6c6c6" stroke-width="1.5"/>
<line x1="32.00" y1="271.51" x2="318.80" y2="271.51" stroke="#c6c6c6" stroke-width="1.5"/>
<rect x="32.00" y="245.80" width="286.80" height="205.70" fill="none" stroke="#000" stroke-width="1.6"/>
<line x1="28.80" y1="451.50" x2="32.00" y2="451.50" stroke="#222" stroke-width="1.1"/>
<text transform="translate(24.00,454.45) scale(1,1.100)" text-anchor="end" class="tk">0</text>
<line x1="28.80" y1="425.79" x2="32.00" y2="425.79" stroke="#222" stroke-width="1.1"/>
<text transform="translate(24.00,428.74) scale(1,1.100)" text-anchor="end" class="tk">2</text>
<line x1="28.80" y1="400.07" x2="32.00" y2="400.07" stroke="#222" stroke-width="1.1"/>
<text transform="translate(24.00,403.02) scale(1,1.100)" text-anchor="end" class="tk">4</text>
<line x1="28.80" y1="374.36" x2="32.00" y2="374.36" stroke="#222" stroke-width="1.1"/>
<text transform="translate(24.00,377.31) scale(1,1.100)" text-anchor="end" class="tk">6</text>
<line x1="28.80" y1="348.65" x2="32.00" y2="348.65" stroke="#222" stroke-width="1.1"/>
<text transform="translate(24.00,351.60) scale(1,1.100)" text-anchor="end" class="tk">8</text>
<line x1="28.80" y1="322.94" x2="32.00" y2="322.94" stroke="#222" stroke-width="1.1"/>
<text transform="translate(24.00,325.89) scale(1,1.100)" text-anchor="end" class="tk">10</text>
<line x1="28.80" y1="297.23" x2="32.00" y2="297.23" stroke="#222" stroke-width="1.1"/>
<text transform="translate(24.00,300.18) scale(1,1.100)" text-anchor="end" class="tk">12</text>
<line x1="28.80" y1="271.51" x2="32.00" y2="271.51" stroke="#222" stroke-width="1.1"/>
<text transform="translate(24.00,274.46) scale(1,1.100)" text-anchor="end" class="tk">14</text>
<line x1="28.80" y1="245.80" x2="32.00" y2="245.80" stroke="#222" stroke-width="1.1"/>
<text transform="translate(24.00,248.75) scale(1,1.100)" text-anchor="end" class="tk">16</text>
<line x1="32.00" y1="449.50" x2="32.00" y2="451.50" stroke="#222" stroke-width="1"/>
<line x1="42.24" y1="449.50" x2="42.24" y2="451.50" stroke="#222" stroke-width="1"/>
<line x1="52.49" y1="449.50" x2="52.49" y2="451.50" stroke="#222" stroke-width="1"/>
<line x1="62.73" y1="449.50" x2="62.73" y2="451.50" stroke="#222" stroke-width="1"/>
<line x1="72.97" y1="449.50" x2="72.97" y2="451.50" stroke="#222" stroke-width="1"/>
<line x1="83.21" y1="449.50" x2="83.21" y2="451.50" stroke="#222" stroke-width="1"/>
<line x1="93.46" y1="449.50" x2="93.46" y2="451.50" stroke="#222" stroke-width="1"/>
<line x1="103.70" y1="449.50" x2="103.70" y2="451.50" stroke="#222" stroke-width="1"/>
<line x1="113.94" y1="449.50" x2="113.94" y2="451.50" stroke="#222" stroke-width="1"/>
<line x1="124.19" y1="449.50" x2="124.19" y2="451.50" stroke="#222" stroke-width="1"/>
<line x1="134.43" y1="449.50" x2="134.43" y2="451.50" stroke="#222" stroke-width="1"/>
<line x1="144.67" y1="449.50" x2="144.67" y2="451.50" stroke="#222" stroke-width="1"/>
<line x1="154.91" y1="449.50" x2="154.91" y2="451.50" stroke="#222" stroke-width="1"/>
<line x1="165.16" y1="449.50" x2="165.16" y2="451.50" stroke="#222" stroke-width="1"/>
<line x1="175.40" y1="449.50" x2="175.40" y2="451.50" stroke="#222" stroke-width="1"/>
<line x1="185.64" y1="449.50" x2="185.64" y2="451.50" stroke="#222" stroke-width="1"/>
<line x1="195.89" y1="449.50" x2="195.89" y2="451.50" stroke="#222" stroke-width="1"/>
<line x1="206.13" y1="449.50" x2="206.13" y2="451.50" stroke="#222" stroke-width="1"/>
<line x1="216.37" y1="449.50" x2="216.37" y2="451.50" stroke="#222" stroke-width="1"/>
<line x1="226.61" y1="449.50" x2="226.61" y2="451.50" stroke="#222" stroke-width="1"/>
<line x1="236.86" y1="449.50" x2="236.86" y2="451.50" stroke="#222" stroke-width="1"/>
<line x1="247.10" y1="449.50" x2="247.10" y2="451.50" stroke="#222" stroke-width="1"/>
<line x1="257.34" y1="449.50" x2="257.34" y2="451.50" stroke="#222" stroke-width="1"/>
<line x1="267.59" y1="449.50" x2="267.59" y2="451.50" stroke="#222" stroke-width="1"/>
<line x1="277.83" y1="449.50" x2="277.83" y2="451.50" stroke="#222" stroke-width="1"/>
<line x1="288.07" y1="449.50" x2="288.07" y2="451.50" stroke="#222" stroke-width="1"/>
<line x1="298.31" y1="449.50" x2="298.31" y2="451.50" stroke="#222" stroke-width="1"/>
<line x1="308.56" y1="449.50" x2="308.56" y2="451.50" stroke="#222" stroke-width="1"/>
<line x1="318.80" y1="449.50" x2="318.80" y2="451.50" stroke="#222" stroke-width="1"/>
<line x1="32.00" y1="449.00" x2="32.00" y2="454.30" stroke="#222" stroke-width="1.1"/>
<text transform="translate(32.00,464.70) scale(1,1.100)" text-anchor="middle" class="tk">4</text>
<line x1="72.97" y1="449.00" x2="72.97" y2="454.30" stroke="#222" stroke-width="1.1"/>
<text transform="translate(72.97,464.70) scale(1,1.100)" text-anchor="middle" class="tk">6</text>
<line x1="113.94" y1="449.00" x2="113.94" y2="454.30" stroke="#222" stroke-width="1.1"/>
<text transform="translate(113.94,464.70) scale(1,1.100)" text-anchor="middle" class="tk">8</text>
<line x1="154.91" y1="449.00" x2="154.91" y2="454.30" stroke="#222" stroke-width="1.1"/>
<text transform="translate(154.91,464.70) scale(1,1.100)" text-anchor="middle" class="tk">10</text>
<line x1="195.89" y1="449.00" x2="195.89" y2="454.30" stroke="#222" stroke-width="1.1"/>
<text transform="translate(195.89,464.70) scale(1,1.100)" text-anchor="middle" class="tk">12</text>
<line x1="236.86" y1="449.00" x2="236.86" y2="454.30" stroke="#222" stroke-width="1.1"/>
<text transform="translate(236.86,464.70) scale(1,1.100)" text-anchor="middle" class="tk">14</text>
<line x1="277.83" y1="449.00" x2="277.83" y2="454.30" stroke="#222" stroke-width="1.1"/>
<text transform="translate(277.83,464.70) scale(1,1.100)" text-anchor="middle" class="tk">16</text>
<line x1="318.80" y1="449.00" x2="318.80" y2="454.30" stroke="#222" stroke-width="1.1"/>
<text transform="translate(318.80,464.70) scale(1,1.100)" text-anchor="middle" class="tk">18</text>
<line x1="31.40" y1="451.50" x2="319.40" y2="451.50" stroke="#111" stroke-width="1.8"/>
<text transform="translate(175.40,477.20) scale(1,1.100)" text-anchor="middle" class="ti">Elution time (min)</text>
<text transform="translate(11.00,348.00) rotate(-90) scale(1,1.100)" text-anchor="middle" class="ti">Signal (nC)</text>
<text transform="translate(1.00,256.00) scale(1,1.100)" class="pl">c</text>
<path d="M32.0,348.6 33.1,360.9 33.1,361.1 33.2,360.9 33.3,360.4 33.6,355.2 33.9,334.7 34.4,279.9 34.6,265.5 34.9,273.9 35.7,359.0 36.0,370.9 36.3,373.9 36.7,375.7 39.4,383.5 42.5,389.8 46.5,394.3 50.7,397.0 54.9,401.2 58.7,405.8 59.0,405.9 59.4,405.4 60.4,402.0 60.5,401.7 60.7,401.6 61.0,402.4 62.0,407.2 62.4,408.2 62.9,408.8 67.2,410.8 68.5,410.5 69.1,409.9 69.6,408.4 70.0,406.1 71.3,394.1 71.5,392.4 71.7,391.8 72.0,392.4 72.2,394.1 73.5,406.7 74.0,409.2 74.5,410.3 75.1,410.9 76.2,411.2 78.1,411.5 80.0,411.5 81.4,411.3 82.6,411.0 83.5,410.5 84.2,409.7 84.8,408.7 85.2,407.5 85.9,403.5 86.5,397.1 87.0,387.9 87.9,358.8 89.4,285.6 89.9,273.6 90.0,271.2 90.2,270.5 90.5,273.8 90.9,286.0 92.9,376.0 93.5,392.0 94.0,402.1 94.8,409.0 95.3,411.4 95.8,413.2 96.7,414.7 97.8,416.2 99.2,417.6 101.0,419.0 101.9,419.6 102.9,419.8 103.7,419.8 104.3,419.5 104.8,418.9 105.2,418.1 106.7,413.8 107.1,413.3 107.4,413.1 107.7,413.4 108.1,414.2 109.9,419.7 110.5,420.6 111.2,421.2 111.6,421.3 112.1,421.3 112.8,420.8 113.4,419.7 114.6,416.3 114.9,415.8 115.2,415.7 115.5,416.1 115.8,416.9 116.9,420.8 117.5,422.4 118.0,423.4 118.9,424.1 119.3,424.2 119.8,424.3 120.7,424.0 121.5,423.5 122.9,421.9 123.5,421.7 123.9,421.8 124.3,422.1 126.1,424.5 127.1,425.2 128.5,425.5 134.7,426.0 136.7,425.7 137.4,425.5 137.9,425.1 138.8,423.8 140.3,420.5 140.7,420.0 141.1,419.7 141.5,419.8 141.9,420.2 143.2,422.6 143.9,423.6 144.6,424.1 145.4,424.2 147.0,423.8 152.0,422.1 157.1,421.6 159.2,421.2 159.7,420.9 160.3,420.3 162.1,417.4 162.5,417.0 162.9,416.9 163.3,417.1 163.7,417.5 165.2,420.4 165.9,421.4 166.6,422.0 167.6,422.6 174.3,424.8 179.9,426.0 186.3,427.8 199.7,430.0 207.4,430.6 211.3,431.7 213.0,431.6 214.2,431.4 215.1,430.9 216.9,429.8 217.8,429.6 218.7,429.8 220.5,430.8 221.4,431.2 224.6,431.6 228.3,431.8 231.6,431.2 233.7,430.6 234.4,430.2 235.1,429.6 235.5,428.9 236.0,427.8 236.9,424.6 237.5,420.1 238.2,413.4 238.7,405.4 241.0,367.2 241.5,361.3 241.8,360.1 242.0,359.8 242.3,360.4 242.5,361.9 243.1,368.2 245.1,403.8 246.2,417.4 246.8,422.1 247.4,425.5 248.2,427.7 249.0,428.9 249.8,429.5 251.4,429.9 254.9,430.5 262.4,432.0 279.9,434.0 297.5,435.4 308.6,435.4 318.8,434.9" fill="none" stroke="#000" stroke-width="2.30" stroke-linejoin="round" stroke-linecap="round" />
<path d="M32.0,356.3 33.2,391.0 35.3,400.0 38.3,408.3 42.4,415.0 48.8,420.8 54.9,424.5 61.1,425.4 64.8,427.5 67.2,429.4 68.3,429.2 68.8,429.0 69.2,428.5 69.5,427.6 70.1,424.1 71.1,414.1 71.3,412.6 71.6,412.2 72.0,414.0 73.2,425.5 73.6,427.3 74.0,428.1 74.7,428.4 79.1,428.3 80.8,427.6 82.1,426.9 83.1,426.1 84.0,425.2 84.5,424.3 85.0,423.0 85.8,419.6 86.4,412.9 86.9,403.9 87.8,374.9 89.4,295.5 89.9,283.3 90.0,280.9 90.2,280.1 90.5,283.4 90.9,295.8 92.9,388.8 93.5,405.8 94.0,416.4 94.8,423.8 95.3,426.4 95.8,428.3 96.6,429.9 97.6,431.5 99.0,433.1 101.0,434.9 103.5,435.1 104.1,435.0 104.6,434.6 105.0,434.1 105.4,433.3 106.8,429.1 107.1,428.5 107.4,428.4 107.7,428.7 108.0,429.4 109.4,433.9 109.8,434.7 110.3,435.2 110.7,435.5 111.2,435.6 112.4,435.3 113.0,434.6 114.2,432.4 114.5,432.2 114.8,432.2 115.3,433.0 116.6,436.8 117.4,438.2 118.2,439.1 119.9,439.8 130.9,440.5 135.2,440.4 137.2,440.2 140.0,439.0 141.1,438.8 142.0,439.0 144.4,440.0 145.7,440.3 159.7,441.3 160.5,441.1 161.1,440.7 162.9,438.3 163.4,437.9 163.7,437.8 164.0,437.9 164.3,438.2 166.1,440.9 166.6,441.4 167.1,441.8 168.0,442.1 174.4,443.1 179.5,443.6 191.8,444.4 210.2,445.2 217.2,444.7 224.6,445.6 234.3,445.6 236.7,445.3 237.5,444.9 238.3,444.4 239.2,443.4 241.4,440.8 242.0,440.3 242.7,440.1 243.2,440.2 243.7,440.7 246.4,443.9 247.5,444.7 248.3,445.2 250.5,445.8 256.7,446.6 303.4,448.0 318.8,447.6" fill="none" stroke="#000" stroke-width="1.90" stroke-linejoin="round" stroke-linecap="butt" stroke-dasharray="1.7 1.7" />
<text transform="translate(90.00,263.30) scale(1,1.100)" text-anchor="middle" class="pl">1</text>
<text transform="translate(242.40,356.50) scale(1,1.100)" text-anchor="middle" class="pl">2</text>
<line x1="388.50" y1="431.93" x2="677.70" y2="431.93" stroke="#c6c6c6" stroke-width="1.5"/>
<line x1="388.50" y1="408.87" x2="677.70" y2="408.87" stroke="#c6c6c6" stroke-width="1.5"/>
<line x1="388.50" y1="385.80" x2="677.70" y2="385.80" stroke="#c6c6c6" stroke-width="1.5"/>
<line x1="388.50" y1="362.73" x2="677.70" y2="362.73" stroke="#c6c6c6" stroke-width="1.5"/>
<line x1="388.50" y1="339.67" x2="677.70" y2="339.67" stroke="#c6c6c6" stroke-width="1.5"/>
<line x1="388.50" y1="316.60" x2="677.70" y2="316.60" stroke="#c6c6c6" stroke-width="1.5"/>
<line x1="388.50" y1="293.53" x2="677.70" y2="293.53" stroke="#c6c6c6" stroke-width="1.5"/>
<line x1="388.50" y1="270.47" x2="677.70" y2="270.47" stroke="#c6c6c6" stroke-width="1.5"/>
<rect x="388.50" y="247.40" width="289.20" height="207.60" fill="none" stroke="#000" stroke-width="1.6"/>
<line x1="385.30" y1="455.00" x2="388.50" y2="455.00" stroke="#222" stroke-width="1.1"/>
<text transform="translate(380.50,457.95) scale(1,1.100)" text-anchor="end" class="tk">0</text>
<line x1="385.30" y1="431.93" x2="388.50" y2="431.93" stroke="#222" stroke-width="1.1"/>
<text transform="translate(380.50,434.88) scale(1,1.100)" text-anchor="end" class="tk">20</text>
<line x1="385.30" y1="408.87" x2="388.50" y2="408.87" stroke="#222" stroke-width="1.1"/>
<text transform="translate(380.50,411.82) scale(1,1.100)" text-anchor="end" class="tk">40</text>
<line x1="385.30" y1="385.80" x2="388.50" y2="385.80" stroke="#222" stroke-width="1.1"/>
<text transform="translate(380.50,388.75) scale(1,1.100)" text-anchor="end" class="tk">60</text>
<line x1="385.30" y1="362.73" x2="388.50" y2="362.73" stroke="#222" stroke-width="1.1"/>
<text transform="translate(380.50,365.68) scale(1,1.100)" text-anchor="end" class="tk">80</text>
<line x1="385.30" y1="339.67" x2="388.50" y2="339.67" stroke="#222" stroke-width="1.1"/>
<text transform="translate(380.50,342.62) scale(1,1.100)" text-anchor="end" class="tk">100</text>
<line x1="385.30" y1="316.60" x2="388.50" y2="316.60" stroke="#222" stroke-width="1.1"/>
<text transform="translate(380.50,319.55) scale(1,1.100)" text-anchor="end" class="tk">120</text>
<line x1="385.30" y1="293.53" x2="388.50" y2="293.53" stroke="#222" stroke-width="1.1"/>
<text transform="translate(380.50,296.48) scale(1,1.100)" text-anchor="end" class="tk">140</text>
<line x1="385.30" y1="270.47" x2="388.50" y2="270.47" stroke="#222" stroke-width="1.1"/>
<text transform="translate(380.50,273.42) scale(1,1.100)" text-anchor="end" class="tk">160</text>
<line x1="385.30" y1="247.40" x2="388.50" y2="247.40" stroke="#222" stroke-width="1.1"/>
<text transform="translate(380.50,250.35) scale(1,1.100)" text-anchor="end" class="tk">180</text>
<line x1="388.50" y1="453.00" x2="388.50" y2="455.00" stroke="#222" stroke-width="1"/>
<line x1="398.14" y1="453.00" x2="398.14" y2="455.00" stroke="#222" stroke-width="1"/>
<line x1="407.78" y1="453.00" x2="407.78" y2="455.00" stroke="#222" stroke-width="1"/>
<line x1="417.42" y1="453.00" x2="417.42" y2="455.00" stroke="#222" stroke-width="1"/>
<line x1="427.06" y1="453.00" x2="427.06" y2="455.00" stroke="#222" stroke-width="1"/>
<line x1="436.70" y1="453.00" x2="436.70" y2="455.00" stroke="#222" stroke-width="1"/>
<line x1="446.34" y1="453.00" x2="446.34" y2="455.00" stroke="#222" stroke-width="1"/>
<line x1="455.98" y1="453.00" x2="455.98" y2="455.00" stroke="#222" stroke-width="1"/>
<line x1="465.62" y1="453.00" x2="465.62" y2="455.00" stroke="#222" stroke-width="1"/>
<line x1="475.26" y1="453.00" x2="475.26" y2="455.00" stroke="#222" stroke-width="1"/>
<line x1="484.90" y1="453.00" x2="484.90" y2="455.00" stroke="#222" stroke-width="1"/>
<line x1="494.54" y1="453.00" x2="494.54" y2="455.00" stroke="#222" stroke-width="1"/>
<line x1="504.18" y1="453.00" x2="504.18" y2="455.00" stroke="#222" stroke-width="1"/>
<line x1="513.82" y1="453.00" x2="513.82" y2="455.00" stroke="#222" stroke-width="1"/>
<line x1="523.46" y1="453.00" x2="523.46" y2="455.00" stroke="#222" stroke-width="1"/>
<line x1="533.10" y1="453.00" x2="533.10" y2="455.00" stroke="#222" stroke-width="1"/>
<line x1="542.74" y1="453.00" x2="542.74" y2="455.00" stroke="#222" stroke-width="1"/>
<line x1="552.38" y1="453.00" x2="552.38" y2="455.00" stroke="#222" stroke-width="1"/>
<line x1="562.02" y1="453.00" x2="562.02" y2="455.00" stroke="#222" stroke-width="1"/>
<line x1="571.66" y1="453.00" x2="571.66" y2="455.00" stroke="#222" stroke-width="1"/>
<line x1="581.30" y1="453.00" x2="581.30" y2="455.00" stroke="#222" stroke-width="1"/>
<line x1="590.94" y1="453.00" x2="590.94" y2="455.00" stroke="#222" stroke-width="1"/>
<line x1="600.58" y1="453.00" x2="600.58" y2="455.00" stroke="#222" stroke-width="1"/>
<line x1="610.22" y1="453.00" x2="610.22" y2="455.00" stroke="#222" stroke-width="1"/>
<line x1="619.86" y1="453.00" x2="619.86" y2="455.00" stroke="#222" stroke-width="1"/>
<line x1="629.50" y1="453.00" x2="629.50" y2="455.00" stroke="#222" stroke-width="1"/>
<line x1="639.14" y1="453.00" x2="639.14" y2="455.00" stroke="#222" stroke-width="1"/>
<line x1="648.78" y1="453.00" x2="648.78" y2="455.00" stroke="#222" stroke-width="1"/>
<line x1="658.42" y1="453.00" x2="658.42" y2="455.00" stroke="#222" stroke-width="1"/>
<line x1="668.06" y1="453.00" x2="668.06" y2="455.00" stroke="#222" stroke-width="1"/>
<line x1="677.70" y1="453.00" x2="677.70" y2="455.00" stroke="#222" stroke-width="1"/>
<line x1="388.50" y1="452.50" x2="388.50" y2="457.80" stroke="#222" stroke-width="1.1"/>
<text transform="translate(388.50,468.70) scale(1,1.100)" text-anchor="middle" class="tk">0</text>
<line x1="484.90" y1="452.50" x2="484.90" y2="457.80" stroke="#222" stroke-width="1.1"/>
<text transform="translate(484.90,468.70) scale(1,1.100)" text-anchor="middle" class="tk">5</text>
<line x1="581.30" y1="452.50" x2="581.30" y2="457.80" stroke="#222" stroke-width="1.1"/>
<text transform="translate(581.30,468.70) scale(1,1.100)" text-anchor="middle" class="tk">10</text>
<line x1="677.70" y1="452.50" x2="677.70" y2="457.80" stroke="#222" stroke-width="1.1"/>
<text transform="translate(677.70,468.70) scale(1,1.100)" text-anchor="middle" class="tk">15</text>
<line x1="387.90" y1="455.00" x2="678.30" y2="455.00" stroke="#111" stroke-width="1.8"/>
<text transform="translate(533.40,480.90) scale(1,1.100)" text-anchor="middle" class="ti">Elution time (min)</text>
<text transform="translate(362.30,350.80) rotate(-90) scale(1,1.100)" text-anchor="middle" class="ti">Signal (nC)</text>
<text transform="translate(356.50,258.00) scale(1,1.100)" class="pl">d</text>
<path d="M388.5,422.4 414.2,422.3 415.2,422.1 415.9,421.5 416.4,420.4 416.7,418.9 417.9,412.3 418.4,410.4 418.6,410.2 418.9,410.3 419.5,412.0 419.8,412.4 420.1,411.9 420.3,411.0 421.0,402.5 422.2,376.1 422.5,372.8 422.7,372.0 422.8,372.0 423.0,372.8 423.3,376.1 424.6,400.7 424.8,404.4 425.1,406.1 425.2,406.2 425.3,406.0 425.6,404.1 426.7,386.9 427.0,384.2 427.2,383.7 427.3,384.4 427.6,387.4 428.6,401.5 428.9,404.2 429.3,406.3 429.7,407.4 431.2,409.9 433.2,414.7 434.3,416.8 435.5,418.3 436.3,418.8 437.1,419.1 440.8,419.2 447.2,419.1 447.7,418.9 448.1,418.6 449.3,416.2 449.8,415.8 450.3,416.2 451.6,418.7 452.2,419.1 452.9,419.2 480.6,419.1 486.6,418.9 488.3,418.6 488.9,418.1 489.4,417.3 489.9,415.9 490.3,414.2 491.1,408.8 492.5,395.1 492.9,393.0 493.2,392.5 493.4,392.8 493.6,393.4 494.0,395.9 495.8,412.8 496.4,415.9 497.0,417.9 497.6,418.7 498.4,419.2 499.7,419.5 502.3,419.8 508.0,422.4 677.7,422.7" fill="none" stroke="#555" stroke-width="1.50" stroke-linejoin="round" stroke-linecap="butt" stroke-dasharray="4.4 2.4" />
<path d="M388.5,407.9 414.2,407.9 415.2,407.7 415.9,407.0 416.4,405.8 416.7,404.2 417.9,396.9 418.4,394.9 418.6,394.6 418.9,394.7 419.5,396.6 419.8,397.0 420.1,396.6 420.3,395.5 421.0,386.3 422.2,357.4 422.5,353.8 422.7,352.8 422.8,352.9 423.0,353.8 423.3,357.4 424.6,384.4 424.8,388.4 425.1,390.3 425.2,390.4 425.3,390.2 425.6,388.2 426.7,369.6 427.0,366.6 427.2,366.1 427.3,366.9 427.6,370.1 428.6,385.4 428.9,388.3 429.3,390.6 429.7,391.8 431.2,394.6 433.2,399.8 434.3,402.1 435.0,403.1 435.6,403.9 436.4,404.4 437.2,404.6 440.7,404.8 447.2,404.7 447.7,404.5 448.1,404.1 449.3,401.7 449.8,401.3 450.3,401.7 451.6,404.2 452.2,404.6 452.9,404.8 481.1,404.6 486.3,404.4 488.3,404.1 488.9,403.6 489.4,402.9 489.9,401.7 490.3,400.2 491.1,395.4 492.5,383.5 492.9,381.6 493.2,381.2 493.4,381.4 493.6,382.0 494.0,384.1 495.8,398.8 496.4,401.5 497.0,403.2 497.6,403.9 498.3,404.3 499.6,404.6 502.3,404.8 508.0,407.3 677.7,407.4" fill="none" stroke="#111" stroke-width="1.90" stroke-linejoin="round" stroke-linecap="butt" stroke-dasharray="4.8 2.1" />
<path d="M388.5,396.2 414.2,396.2 415.2,396.0 415.9,395.3 416.4,394.1 416.7,392.4 417.9,384.8 418.3,383.0 418.5,382.6 418.8,382.5 419.5,384.5 419.8,384.9 420.1,384.2 420.3,382.9 421.0,372.0 422.1,340.7 422.4,335.7 422.7,333.6 422.8,333.6 423.0,334.8 423.3,339.0 424.6,370.4 424.8,375.2 425.1,377.7 425.2,378.0 425.3,377.9 425.6,376.1 426.7,357.4 427.0,354.3 427.2,353.8 427.3,354.6 427.6,357.9 428.6,373.6 428.9,376.6 429.3,379.0 429.7,380.2 431.2,383.3 433.9,390.8 434.9,392.7 435.8,393.9 437.2,394.7 438.7,395.0 445.8,395.1 447.1,395.0 447.6,394.6 448.1,393.8 449.3,389.0 449.6,388.3 449.8,388.2 450.0,388.3 450.3,389.0 451.2,392.5 451.6,394.0 452.2,394.8 452.9,395.1 470.4,395.1 480.5,394.9 483.4,394.8 485.6,394.5 487.0,394.1 488.0,393.6 488.5,393.1 488.9,392.3 489.4,390.2 489.9,386.6 490.4,380.4 491.2,363.1 492.5,320.5 492.9,313.0 493.2,311.2 493.5,313.0 493.9,320.5 495.3,365.9 496.2,383.4 496.7,388.4 497.2,391.6 497.6,392.7 498.0,393.4 498.5,393.9 499.2,394.3 501.0,394.8 504.0,395.3 508.5,395.6 513.3,395.9 514.3,395.8 515.1,395.6 517.4,394.1 518.4,393.8 519.1,394.1 520.8,395.4 521.7,396.0 522.9,396.3 524.4,396.4 677.7,396.4" fill="none" stroke="#606060" stroke-width="1.50" stroke-linejoin="round" stroke-linecap="round" />
<path d="M388.5,449.2 412.8,449.0 415.0,448.8 415.3,448.7 415.6,448.2 416.0,447.0 417.0,439.1 417.2,438.1 417.4,437.7 417.6,438.0 417.8,438.8 418.9,446.0 419.3,446.9 419.5,446.9 419.7,446.6 420.1,445.1 420.4,442.8 420.9,434.7 421.4,419.2 422.2,381.3 422.5,373.4 422.7,371.4 422.9,372.3 423.2,378.6 424.3,420.6 424.6,428.3 424.9,433.6 425.0,434.1 425.1,434.2 425.2,434.0 425.6,430.2 426.6,407.9 426.9,403.5 427.1,402.6 427.3,403.7 427.5,408.4 428.6,434.4 428.9,438.5 429.3,441.6 429.6,442.8 429.9,443.3 430.0,443.4 430.2,443.3 430.5,442.6 431.0,439.7 431.9,431.6 432.1,430.7 432.3,430.4 432.7,432.3 433.5,441.7 434.0,445.4 434.5,447.1 434.8,447.6 435.3,447.8 438.9,448.2 446.9,448.5 448.1,448.2 449.6,447.0 450.2,446.8 450.8,447.0 452.4,448.3 453.1,448.5 454.0,448.6 481.4,448.6 486.2,448.4 487.4,448.2 488.2,447.9 488.9,447.3 489.4,446.2 489.9,444.4 490.3,442.3 491.1,435.6 492.5,418.6 492.9,416.0 493.2,415.4 493.5,416.0 493.9,418.6 495.4,436.6 496.3,443.5 496.9,445.9 497.4,447.2 498.2,447.9 499.4,448.3 504.1,448.7 513.0,449.0 514.8,448.9 517.3,448.3 518.4,448.2 522.0,449.0 525.0,449.2 677.7,449.2" fill="none" stroke="#000" stroke-width="2.00" stroke-linejoin="round" stroke-linecap="round" />
<path d="M388.5,352.5 414.3,352.4 415.3,352.2 416.0,351.4 416.4,350.3 416.7,348.6 417.9,340.7 418.3,338.8 418.5,338.3 418.6,338.2 418.8,338.2 419.5,340.3 419.8,340.6 420.1,339.8 420.3,338.3 421.0,326.6 422.2,290.5 422.5,286.0 422.7,284.8 422.8,284.7 423.1,286.9 423.4,292.1 424.6,322.4 424.8,327.2 425.1,329.6 425.2,329.8 425.3,329.7 425.6,327.6 426.8,306.1 427.1,303.3 427.2,303.0 427.3,303.0 427.6,305.8 428.6,319.3 429.2,323.7 430.4,327.3 431.1,329.8 433.2,339.8 434.2,343.5 435.3,346.3 436.7,348.4 437.9,349.2 439.4,349.5 446.7,349.7 447.5,349.5 448.0,348.9 448.4,347.8 449.5,341.3 449.8,340.2 450.0,340.0 450.2,340.3 450.5,341.3 451.4,346.6 451.8,348.7 452.3,349.7 452.6,350.0 453.1,350.2 453.7,350.2 456.2,348.6 461.6,350.3 468.1,348.2 473.3,348.4 479.5,349.9 481.0,350.0 483.7,349.9 485.7,349.7 486.9,349.2 487.8,348.6 488.3,348.0 488.7,347.3 489.3,344.8 489.8,341.1 490.3,334.8 491.2,313.7 492.5,265.1 492.9,256.5 493.2,254.4 493.5,256.5 493.8,262.4 495.3,316.6 496.2,336.2 496.7,341.9 497.3,345.9 497.7,347.1 498.1,347.8 498.7,348.4 499.4,348.9 501.2,349.5 504.9,350.1 510.0,350.6 513.3,350.7 514.3,350.5 515.1,350.2 515.8,349.5 517.4,347.9 517.9,347.7 518.4,347.6 519.1,348.0 520.9,349.8 521.9,350.5 523.2,350.8 525.8,350.9 551.4,351.3 556.2,350.5 561.1,351.3 569.7,351.2 575.1,350.6 580.3,351.4 590.9,351.7 677.7,351.9" fill="none" stroke="#000" stroke-width="2.00" stroke-linejoin="round" stroke-linecap="round" />
<text transform="translate(502.60,263.60) scale(1,1.100)" text-anchor="middle" class="pl">2</text>
</svg>
</body></html>
